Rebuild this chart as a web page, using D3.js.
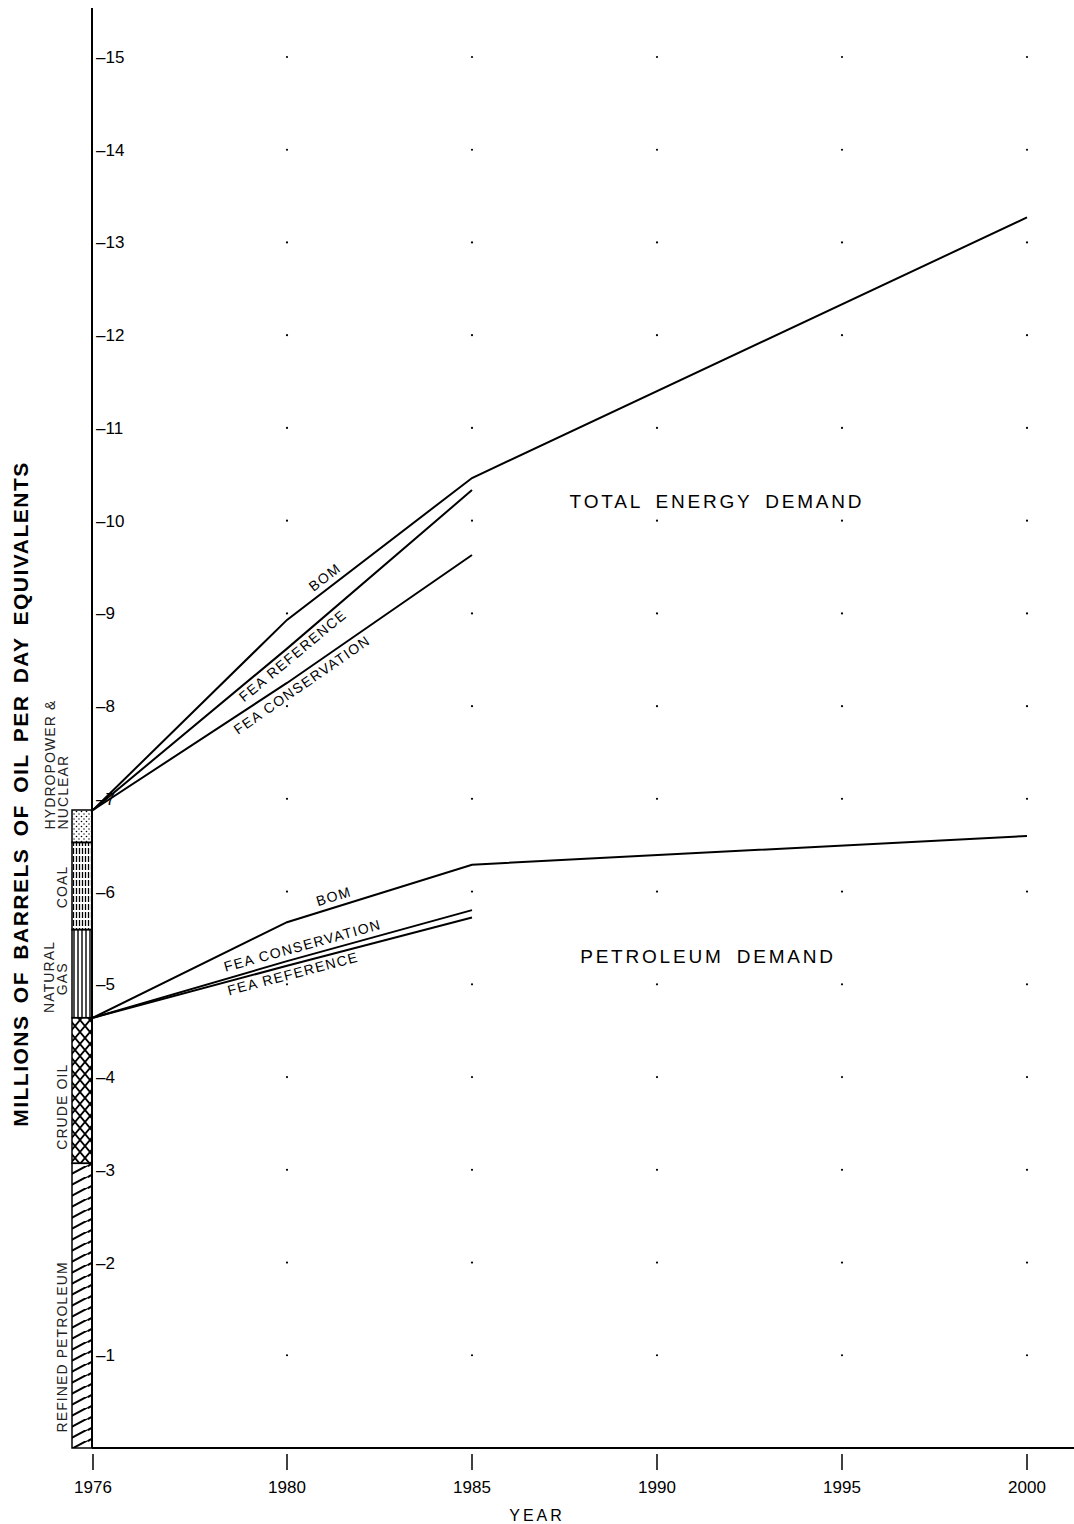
<!DOCTYPE html>
<html>
<head>
<meta charset="utf-8">
<script src="https://cdn.jsdelivr.net/npm/d3@7"></script>
<style>
  body { margin: 0; background: #fff; }
  svg { display: block; font-family: "Liberation Sans", Arial, sans-serif; }
</style>
</head>
<body>
<div id="chart"></div>
<script>
// year ticks and y ticks
const years = [1976, 1980, 1985, 1990, 1995, 2000];
const yTicks = [1, 2, 3, 4, 5, 6, 7, 8, 9, 10, 11, 12, 13, 14, 15];
const gridYears = [1980, 1985, 1990, 1995, 2000];

// demand projections (millions of barrels/day equivalent)
const totalBOM = [[1976, 6.88], [1980, 8.93], [1985, 10.46], [2000, 13.27]];
const totalFEARef = [[1976, 6.88], [1980, 8.62], [1985, 10.33]];
const totalFEACons = [[1976, 6.88], [1980, 8.25], [1985, 9.63]];
const petroBOM = [[1976, 4.64], [1980, 5.67], [1985, 6.29], [2000, 6.60]];
const petroFEACons = [[1976, 4.64], [1980, 5.25], [1985, 5.80]];
const petroFEARef = [[1976, 4.64], [1980, 5.2], [1985, 5.72]];

// 1976 supply stack
const supplyNames = ["REFINED PETROLEUM", "CRUDE OIL", "NATURAL GAS", "COAL", "HYDROPOWER & NUCLEAR"];
const supplyBounds = [0, 3.07, 4.64, 5.59, 6.53, 6.88];

const width = 1074, height = 1524;
const svg = d3.select("#chart").append("svg").attr("width", width).attr("height", height);

// broken axis: 1976 sits right at the y axis
const x = d3.scaleLinear().domain([1976, 1980, 2000]).range([93, 287, 1027]);
const y = d3.scaleLinear().domain([0, 15]).range([1448, 57]);

// patterns
const defs = svg.append("defs");
const p1 = defs.append("pattern").attr("id", "refined").attr("patternUnits", "userSpaceOnUse")
  .attr("width", 22).attr("height", 11);
p1.append("path").attr("d", "M-2,12 L24,-2 M-2,1 L4,-2 M18,13 L24,10").attr("stroke", "#000").attr("stroke-width", 2);
const p2 = defs.append("pattern").attr("id", "crude").attr("patternUnits", "userSpaceOnUse")
  .attr("width", 10).attr("height", 12);
p2.append("path").attr("d", "M0,0 L10,12 M10,0 L0,12").attr("stroke", "#000").attr("stroke-width", 1.8);
const p3 = defs.append("pattern").attr("id", "gas").attr("patternUnits", "userSpaceOnUse")
  .attr("width", 4).attr("height", 10);
p3.append("path").attr("d", "M2,0 L2,10").attr("stroke", "#000").attr("stroke-width", 1.4);
const p4 = defs.append("pattern").attr("id", "coal").attr("patternUnits", "userSpaceOnUse")
  .attr("width", 3).attr("height", 8);
p4.append("path").attr("d", "M1.5,0 L1.5,6").attr("stroke", "#000").attr("stroke-width", 1.3);
const p5 = defs.append("pattern").attr("id", "hydro").attr("patternUnits", "userSpaceOnUse")
  .attr("width", 5).attr("height", 5);
p5.append("circle").attr("cx", 1.5).attr("cy", 1.5).attr("r", 0.8).attr("fill", "#000");
p5.append("circle").attr("cx", 4).attr("cy", 4).attr("r", 0.7).attr("fill", "#000");
const fills = ["url(#refined)", "url(#crude)", "url(#gas)", "url(#coal)", "url(#hydro)"];

// grid dots
const dots = [];
gridYears.forEach(yr => yTicks.forEach(v => dots.push([yr, v])));
svg.append("g").selectAll("circle").data(dots).join("circle")
  .attr("cx", d => x(d[0])).attr("cy", d => y(d[1])).attr("r", 1.1).attr("fill", "#000");

// axes
svg.append("line").attr("x1", 92).attr("x2", 92).attr("y1", 8).attr("y2", y(0))
  .attr("stroke", "#000").attr("stroke-width", 2);
svg.append("line").attr("x1", 92).attr("x2", width).attr("y1", y(0)).attr("y2", y(0))
  .attr("stroke", "#000").attr("stroke-width", 1.8);

const xAxis = svg.append("g");
xAxis.selectAll("line").data(years).join("line")
  .attr("x1", d => x(d)).attr("x2", d => x(d)).attr("y1", y(0) + 6).attr("y2", y(0) + 22)
  .attr("stroke", "#000").attr("stroke-width", 1.5);
xAxis.selectAll("text").data(years).join("text")
  .attr("x", d => x(d)).attr("y", y(0) + 45).attr("text-anchor", "middle")
  .attr("font-size", 17).text(d => d);
svg.append("text").attr("x", 537).attr("y", 1521).attr("text-anchor", "middle")
  .attr("font-size", 16).attr("letter-spacing", 3).text("YEAR");

svg.append("g").selectAll("text").data(yTicks).join("text")
  .attr("x", 96).attr("y", d => y(d) + 6).attr("font-size", 17)
  .text(d => "\u2013" + d);

svg.append("text")
  .attr("transform", "translate(28,794) rotate(-90)")
  .attr("text-anchor", "middle").attr("font-size", 21).attr("font-weight", "bold")
  .attr("letter-spacing", 1.5).attr("word-spacing", 4)
  .text("MILLIONS OF BARRELS OF OIL PER DAY EQUIVALENTS");

// supply stack bar
const bar = svg.append("g");
bar.selectAll("rect").data(supplyNames).join("rect")
  .attr("x", 72).attr("width", 20)
  .attr("y", (d, i) => y(supplyBounds[i + 1]))
  .attr("height", (d, i) => y(supplyBounds[i]) - y(supplyBounds[i + 1]))
  .attr("fill", (d, i) => fills[i])
  .attr("stroke", "#000").attr("stroke-width", 1.5);

// stack labels: text, x of baseline, value at anchor, anchor
const stackLabels = [
  ["REFINED PETROLEUM", 67, 1.09, "middle"],
  ["CRUDE OIL", 67, 3.68, "middle"],
  ["NATURAL", 54, 5.08, "middle"],
  ["GAS", 67, 5.06, "middle"],
  ["COAL", 67, 6.05, "middle"],
  ["HYDROPOWER &", 55, 6.67, "start"],
  ["NUCLEAR", 68, 6.67, "start"]
];
svg.append("g").selectAll("text").data(stackLabels).join("text")
  .attr("transform", d => `translate(${d[1]},${y(d[2])}) rotate(-90)`)
  .attr("text-anchor", d => d[3]).attr("font-size", 14).attr("fill", "#222")
  .attr("letter-spacing", 1.1).text(d => d[0]);

// demand lines
const line = d3.line().x(d => x(d[0])).y(d => y(d[1]));
[totalBOM, totalFEARef, totalFEACons, petroBOM, petroFEACons, petroFEARef].forEach(s => {
  svg.append("path").attr("d", line(s)).attr("fill", "none")
    .attr("stroke", "#000").attr("stroke-width", 2);
});

// line labels, placed along the series
function along(series, yr, dy, text) {
  let i = 0;
  while (i < series.length - 2 && yr > series[i + 1][0]) i++;
  const a = series[i], b = series[i + 1];
  const t = (yr - a[0]) / (b[0] - a[0]);
  const px = x(a[0]) + t * (x(b[0]) - x(a[0]));
  const py = y(a[1]) + t * (y(b[1]) - y(a[1]));
  const r = Math.atan2(y(b[1]) - y(a[1]), x(b[0]) - x(a[0]));
  svg.append("text")
    .attr("transform", `translate(${px - Math.sin(r) * dy},${py + Math.cos(r) * dy}) rotate(${r * 180 / Math.PI})`)
    .attr("text-anchor", "middle").attr("font-size", 14)
    .attr("letter-spacing", 1.4).text(text);
}
along(totalBOM, 1981.2, -6, "BOM");
along(totalFEARef, 1980.0, 14, "FEA  REFERENCE");
along(totalFEACons, 1980.25, 15, "FEA CONSERVATION");
along(petroBOM, 1981.35, -6, "BOM");
along(petroFEACons, 1980.5, -6, "FEA  CONSERVATION");
along(petroFEARef, 1980.1, 14, "FEA  REFERENCE");

svg.append("text").attr("x", 717).attr("y", 508).attr("text-anchor", "middle")
  .attr("font-size", 19).attr("letter-spacing", 2.8).attr("word-spacing", 5)
  .text("TOTAL ENERGY DEMAND");
svg.append("text").attr("x", 708).attr("y", 963).attr("text-anchor", "middle")
  .attr("font-size", 19).attr("letter-spacing", 2.8).attr("word-spacing", 5)
  .text("PETROLEUM DEMAND");
</script>
</body>
</html>
